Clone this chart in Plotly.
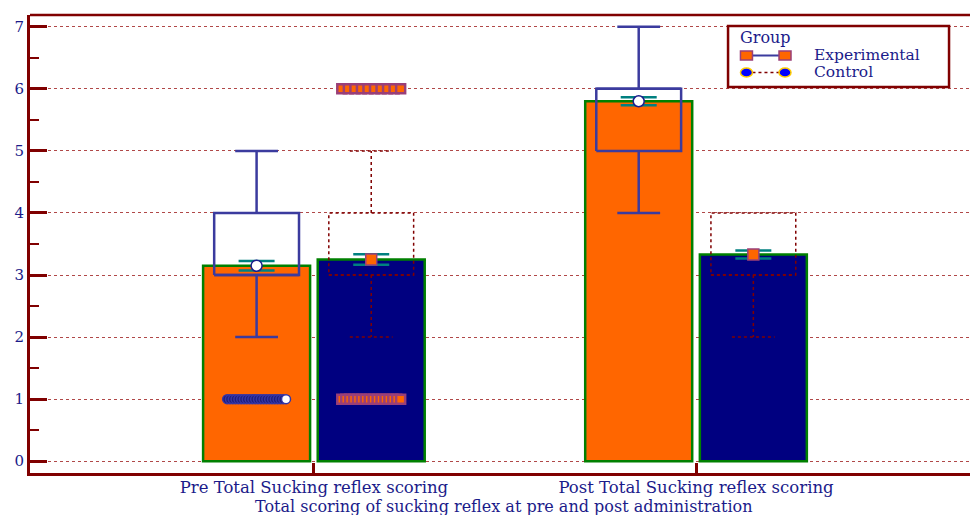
import numpy as np
import plotly.graph_objects as go

# ---------------- data ----------------
categories = ["Pre Total Sucking reflex scoring", "Post Total Sucking reflex scoring"]
groups = ["Experimental", "Control"]

exp_mean = [3.15, 5.80]
ctl_mean = [3.25, 3.33]
exp_err = [0.075, 0.065]
ctl_err = [0.085, 0.065]

exp_q1 = [3, 5]
exp_med = [3, 6]
exp_q3 = [4, 6]
exp_lo = [2, 4]
exp_hi = [5, 7]

ctl_q1 = [3, 3]
ctl_med = [3, 3]
ctl_q3 = [4, 4]
ctl_lo = [2, 2]
ctl_hi = [5, 4]

# outlier cases per category (values)
exp_outliers = [
    [1, 1, 1, 1, 1, 1, 1, 1, 1, 1, 1, 1, 1, 1, 1, 1, 1, 1, 1, 1, 1, 1],
    [],
]
ctl_outliers = [
    [6, 6, 6, 6, 6, 6, 6, 6, 6, 6,
     1, 1, 1, 1, 1, 1, 1, 1, 1, 1, 1, 1, 1, 1, 1, 1],
    [],
]

x_title = "Total scoring of sucking reflex at pre and post administration"
legend_title = "Group"

# ---------------- styles ----------------
FONT = "DejaVu Serif"
NAVY_TXT = "#1b1b8a"
DARKRED = "#800000"
ORANGE = "#ff6600"
NAVY = "#000080"
GREEN = "#008000"
BOXBLUE = "#3b3b9e"
TEAL = "#008080"
PURPLE = "#9a3f78"

off = {"Experimental": -0.15, "Control": 0.15}
bar_w = 0.28
box_hw = 0.111
cap_hw = 0.056
jit_hw = 0.077

cat_idx = np.arange(len(categories))


def box_path(xc, q1, med, q3, lo, hi):
    xs, ys = [], []
    xs += [xc - box_hw, xc + box_hw, xc + box_hw, xc - box_hw, xc - box_hw, None]
    ys += [q1, q1, q3, q3, q1, None]
    xs += [xc - box_hw, xc + box_hw, None]
    ys += [med, med, None]
    if hi > q3:
        xs += [xc, xc, None, xc - cap_hw, xc + cap_hw, None]
        ys += [q3, hi, None, hi, hi, None]
    if lo < q1:
        xs += [xc, xc, None, xc - cap_hw, xc + cap_hw, None]
        ys += [q1, lo, None, lo, lo, None]
    return xs, ys


def jitter(xc, vals):
    xs, ys, last = [], [], []
    for v in sorted(set(vals), reverse=True):
        n = sum(1 for u in vals if u == v)
        xs += list(xc + np.linspace(-jit_hw, jit_hw, n))
        ys += [v] * n
        last += [False] * (n - 1) + [True]
    return xs, ys, last


fig = go.Figure()

# bars
fig.add_trace(go.Bar(x=cat_idx + off["Experimental"], y=exp_mean, width=bar_w,
                     marker=dict(color=ORANGE, line=dict(color=GREEN, width=2.5)),
                     showlegend=False, hoverinfo="skip"))
fig.add_trace(go.Bar(x=cat_idx + off["Control"], y=ctl_mean, width=bar_w,
                     marker=dict(color=NAVY, line=dict(color=GREEN, width=2.5)),
                     showlegend=False, hoverinfo="skip"))

# boxes
bx, by = [], []
for i in cat_idx:
    xs, ys = box_path(i + off["Experimental"], exp_q1[i], exp_med[i], exp_q3[i], exp_lo[i], exp_hi[i])
    bx += xs; by += ys
fig.add_trace(go.Scatter(x=bx, y=by, mode="lines", line=dict(color=BOXBLUE, width=2.5),
                         showlegend=False, hoverinfo="skip"))
bx, by = [], []
for i in cat_idx:
    xs, ys = box_path(i + off["Control"], ctl_q1[i], ctl_med[i], ctl_q3[i], ctl_lo[i], ctl_hi[i])
    bx += xs; by += ys
fig.add_trace(go.Scatter(x=bx, y=by, mode="lines", line=dict(color=DARKRED, width=1.5, dash="dot"),
                         showlegend=False, hoverinfo="skip"))

# outliers
ox, oy, ol = [], [], []
for i in cat_idx:
    xs, ys, ls = jitter(i + off["Experimental"], exp_outliers[i])
    ox += xs; oy += ys; ol += ls
fig.add_trace(go.Scatter(x=ox, y=oy, mode="markers",
                         marker=dict(symbol="circle", size=9,
                                     color=["white" if l else "#1e1e7a" for l in ol],
                                     line=dict(color="#3535a5", width=1.5)),
                         showlegend=False, hoverinfo="skip"))
ox, oy, ol = [], [], []
for i in cat_idx:
    xs, ys, ls = jitter(i + off["Control"], ctl_outliers[i])
    ox += xs; oy += ys; ol += ls
fig.add_trace(go.Scatter(x=ox, y=oy, mode="markers",
                         marker=dict(symbol="square", size=9, color=ORANGE,
                                     line=dict(color=PURPLE, width=2.5)),
                         showlegend=False, hoverinfo="skip"))

# means with error bars
fig.add_trace(go.Scatter(x=cat_idx + off["Experimental"], y=exp_mean, mode="markers",
                         error_y=dict(type="data", array=exp_err, color=TEAL, thickness=2.5, width=18),
                         marker=dict(symbol="circle", size=11, color="white",
                                     line=dict(color="#1c1c8c", width=1.5)),
                         showlegend=False, hoverinfo="skip"))
fig.add_trace(go.Scatter(x=cat_idx + off["Control"], y=ctl_mean, mode="markers",
                         error_y=dict(type="data", array=ctl_err, color=TEAL, thickness=2.5, width=18),
                         marker=dict(symbol="square", size=11, color=ORANGE,
                                     line=dict(color=PURPLE, width=1.5)),
                         showlegend=False, hoverinfo="skip"))

# top frame line
fig.add_shape(type="line", xref="paper", yref="paper", x0=0, x1=1, y0=1, y1=1,
              line=dict(color=DARKRED, width=2.5))

# ---------------- legend (drawn as a keyed box) ----------------
LX0, LX1, LY0, LY1 = 0.7426, 0.9777, 0.8428, 0.976
fig.add_shape(type="rect", xref="paper", yref="paper", x0=LX0, x1=LX1, y0=LY0, y1=LY1,
              line=dict(color=DARKRED, width=2.5), fillcolor="white", layer="above")
fig.add_annotation(xref="paper", yref="paper", x=0.7532, y=0.9509, xanchor="left", yanchor="middle",
                   text=legend_title, showarrow=False,
                   font=dict(family=FONT, size=16, color=NAVY_TXT))
rows_y = [0.9116, 0.8745]
sym_x = [0.7622, 0.8032]
line_styles = [dict(color=BOXBLUE, width=2), dict(color=DARKRED, width=1.5, dash="dot")]
for gname, ry, ls, k in zip(groups, rows_y, line_styles, range(2)):
    fig.add_shape(type="line", xref="paper", yref="paper", x0=sym_x[0], x1=sym_x[1], y0=ry, y1=ry,
                  line=ls, layer="above")
    for sx in sym_x:
        if k == 0:
            fig.add_shape(type="rect", xref="paper", yref="paper", xsizemode="pixel", ysizemode="pixel",
                          xanchor=sx, yanchor=ry, x0=-6, x1=6, y0=-4.5, y1=4.5,
                          fillcolor=ORANGE, line=dict(color=PURPLE, width=1.5), layer="above")
        else:
            fig.add_shape(type="circle", xref="paper", yref="paper", xsizemode="pixel", ysizemode="pixel",
                          xanchor=sx, yanchor=ry, x0=-6, x1=6, y0=-4.5, y1=4.5,
                          fillcolor="#0000ff", line=dict(color="#ffcc00", width=1.5), layer="above")
    fig.add_annotation(xref="paper", yref="paper", x=0.8319, y=ry, xanchor="left", yanchor="middle",
                       text=gname, showarrow=False,
                       font=dict(family=FONT, size=15.5, color=NAVY_TXT))

# x-axis title
fig.add_annotation(xref="paper", yref="paper", x=0.504, y=-0.0728, xanchor="center", yanchor="middle",
                   text=x_title, showarrow=False,
                   font=dict(family=FONT, size=16, color=NAVY_TXT))

fig.update_layout(
    width=970, height=515,
    margin=dict(l=30, r=0, t=15, b=42),
    plot_bgcolor="white", paper_bgcolor="white",
    font=dict(family=FONT, color=NAVY_TXT, size=16),
    showlegend=False,
    xaxis=dict(range=[-0.743, 1.717], tickvals=list(cat_idx), ticktext=categories,
               ticks="inside", ticklen=10, tickwidth=3, tickcolor=DARKRED,
               showline=True, linecolor=DARKRED, linewidth=3,
               showgrid=False, zeroline=False, automargin=False,
               ticklabelstandoff=-3,
               tickfont=dict(family=FONT, size=16.5, color=NAVY_TXT)),
    yaxis=dict(range=[-0.19, 7.19], tick0=0, dtick=1,
               ticks="inside", ticklen=17, tickwidth=3, tickcolor=DARKRED,
               showline=True, linecolor=DARKRED, linewidth=3,
               showgrid=True, gridcolor="#b04848", gridwidth=1, griddash="dot",
               zeroline=False, automargin=False,
               tickfont=dict(family=FONT, size=15, color=NAVY_TXT),
               minor=dict(dtick=0.5, ticks="inside", ticklen=9, tickwidth=2,
                          tickcolor=DARKRED, showgrid=False)),
)

fig.write_html("out.html", config={"displayModeBar": False},
               post_script="document.body.style.margin='0px';")
